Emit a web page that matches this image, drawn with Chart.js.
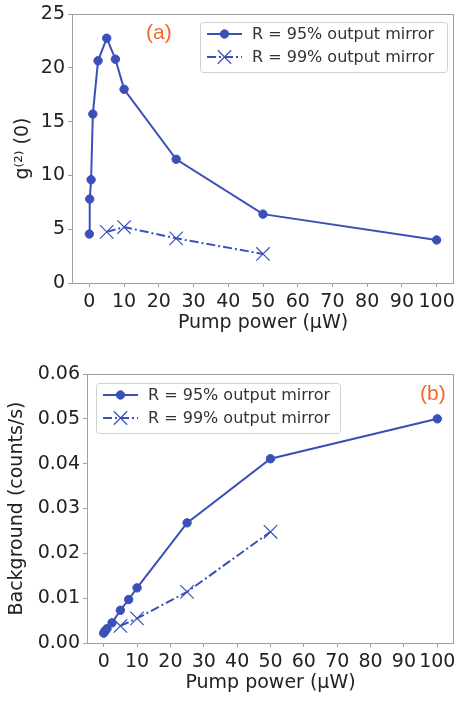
<!DOCTYPE html>
<html>
<head>
<meta charset="utf-8">
<script src="https://cdn.jsdelivr.net/npm/chart.js@4/dist/chart.umd.min.js"></script>
<style>
  html, body { margin: 0; padding: 0; background: #fff; overflow: hidden; width: 455px; height: 701px; }
  #wrapA { position: absolute; left: 0; top: 0; width: 475px; height: 335px; }
  #wrapB { position: absolute; left: 0; top: 340px; width: 475px; height: 361px; }
</style>
</head>
<body>
<div id="wrapA"><canvas id="chartA"></canvas></div>
<div id="wrapB"><canvas id="chartB"></canvas></div>
<script>
// panel (a): g2(0) vs pump power
const pumpA95 = [0, 0.1, 0.5, 1, 2.5, 5, 7.5, 10, 25, 50, 100];
const g2A95 = [4.55, 7.8, 9.6, 15.7, 20.65, 22.75, 20.8, 18.0, 11.5, 6.4, 4.0];
const pumpA99 = [5, 10, 25, 50];
const g2A99 = [4.75, 5.2, 4.15, 2.7];

// panel (b): background vs pump power
const pumpB95 = [0, 0.25, 0.5, 1, 2.5, 5, 7.5, 10, 25, 50, 100];
const bgB95 = [0.0022, 0.0025, 0.0028, 0.0032, 0.0045, 0.0073, 0.0097, 0.0123, 0.0268, 0.0411, 0.0500];
const pumpB99 = [5, 10, 25, 50];
const bgB99 = [0.0038, 0.0055, 0.0114, 0.0248];

const xTicks = [0, 10, 20, 30, 40, 50, 60, 70, 80, 90, 100];
const label95 = 'R = 95% output mirror';
const label99 = 'R = 99% output mirror';

const BLUE = '#3a50b8';
const TAG = '#f0692a';
const FONT = "'DejaVu Sans', sans-serif";
// canvases are a bit wider than the page so the "100" label gets cut at the edge like the original
const CANVAS_W = 475;

const toXY = (xs, ys) => xs.map((x, i) => ({ x: x, y: ys[i] }));

// frame, panel tag and an in-plot legend
const panelDecor = {
    id: 'panelDecor',
    afterDraw(chart, args, opts) {
        const ctx = chart.ctx;
        const a = chart.chartArea;
        ctx.save();
        ctx.strokeStyle = '#a0a0a0';
        ctx.lineWidth = 1;
        ctx.strokeRect(a.left + 0.5, a.top + 0.5, a.right - a.left - 1, a.bottom - a.top);

        ctx.fillStyle = TAG;
        ctx.font = "21px 'Liberation Sans', sans-serif";
        ctx.textAlign = 'left';
        ctx.textBaseline = 'middle';
        ctx.fillText(opts.tag, opts.tagX, opts.tagY);

        const lg = opts.legend;
        ctx.strokeStyle = '#d0d0d0';
        ctx.fillStyle = 'rgba(255,255,255,0.85)';
        ctx.beginPath();
        ctx.roundRect(lg.x + 0.5, lg.y + 0.5, lg.w, lg.h, 3);
        ctx.fill();
        ctx.stroke();

        ctx.font = '16px ' + FONT;
        chart.data.datasets.forEach((ds, i) => {
            const cy = lg.y + lg.row0 + i * lg.rowGap;
            const x0 = lg.x + 7, x1 = lg.x + 42, mx = (x0 + x1) / 2;
            ctx.strokeStyle = ds.borderColor;
            ctx.lineWidth = ds.borderWidth;
            ctx.setLineDash(ds.borderDash || []);
            ctx.beginPath();
            ctx.moveTo(x0, cy);
            ctx.lineTo(x1, cy);
            ctx.stroke();
            ctx.setLineDash([]);
            ctx.fillStyle = ds.pointBackgroundColor;
            ctx.strokeStyle = ds.pointBorderColor;
            ctx.lineWidth = ds.pointBorderWidth;
            Chart.helpers.drawPoint(ctx, { pointStyle: ds.pointStyle, radius: ds.pointRadius, borderWidth: ds.pointBorderWidth, rotation: 0 }, mx, cy);
            ctx.fillStyle = '#333';
            ctx.fillText(ds.label, lg.x + 52, cy + 1);
        });
        ctx.restore();
    }
};

function makeDatasets(x95, y95, x99, y99) {
    return [
        {
            label: label95,
            data: toXY(x95, y95),
            borderColor: BLUE,
            backgroundColor: BLUE,
            borderWidth: 2,
            pointStyle: 'circle',
            pointRadius: 4.2,
            pointBackgroundColor: BLUE,
            pointBorderColor: BLUE,
            pointBorderWidth: 1
        },
        {
            label: label99,
            data: toXY(x99, y99),
            borderColor: BLUE,
            backgroundColor: BLUE,
            borderWidth: 2,
            borderDash: [9, 3, 2, 3],
            pointStyle: 'crossRot',
            pointRadius: 9.5,
            pointBackgroundColor: BLUE,
            pointBorderColor: BLUE,
            pointBorderWidth: 1.2
        }
    ];
}

function makeOptions(cfg) {
    return {
        responsive: false,
        animation: false,
        layout: { padding: { left: 0, right: CANVAS_W - 454, top: cfg.top, bottom: 0 } },
        plugins: {
            legend: { display: false },
            tooltip: { enabled: false },
            panelDecor: cfg.decor
        },
        scales: {
            x: {
                type: 'linear',
                min: -5,
                max: 105,
                afterBuildTicks: s => { s.ticks = xTicks.map(v => ({ value: v })); },
                afterFit: s => { s.height = cfg.xHeight; },
                grid: { drawOnChartArea: false, drawTicks: true, tickLength: 4, color: '#a0a0a0' },
                border: { display: false },
                ticks: { color: '#222', padding: 4, maxRotation: 0, autoSkip: false, font: { family: FONT, size: 19 } },
                title: {
                    display: true,
                    text: 'Pump power (µW)',
                    color: '#222',
                    font: { family: FONT, size: 19 },
                    padding: { top: 0, bottom: cfg.xTitlePad }
                }
            },
            y: {
                type: 'linear',
                min: cfg.yMin,
                max: cfg.yMax,
                afterFit: s => { s.width = cfg.yWidth; s.paddingTop = 0; s.paddingBottom = 0; },
                grid: { drawOnChartArea: false, drawTicks: true, tickLength: 4, color: '#a0a0a0' },
                border: { display: false },
                ticks: {
                    color: '#222',
                    padding: 3,
                    stepSize: cfg.yStep,
                    font: { family: FONT, size: 19 },
                    callback: cfg.yFmt
                },
                title: {
                    display: true,
                    text: cfg.yTitle,
                    color: '#222',
                    font: { family: FONT, size: 19 },
                    padding: { top: cfg.yTitlePad, bottom: 0 }
                }
            }
        }
    };
}

function mountCanvas(id, w, h) {
    const c = document.getElementById(id);
    c.width = w; c.height = h;
    c.style.width = w + 'px'; c.style.height = h + 'px';
    return c;
}

new Chart(mountCanvas('chartA', CANVAS_W, 335), {
    type: 'line',
    data: { datasets: makeDatasets(pumpA95, g2A95, pumpA99, g2A99) },
    options: makeOptions({
        top: 14, xHeight: 52, yWidth: 72, yMin: 0, yMax: 25, yStep: 5,
        yFmt: v => v, yTitle: 'g⁽²⁾ (0)', yTitlePad: 12, xTitlePad: 1,
        decor: { tag: '(a)', tagX: 146, tagY: 33,
                 legend: { x: 200, y: 22, w: 247, h: 50, row0: 12, rowGap: 23 } }
    }),
    plugins: [panelDecor]
});

new Chart(mountCanvas('chartB', CANVAS_W, 361), {
    type: 'line',
    data: { datasets: makeDatasets(pumpB95, bgB95, pumpB99, bgB99) },
    options: makeOptions({
        top: 34, xHeight: 58, yWidth: 87, yMin: 0, yMax: 0.06, yStep: 0.01,
        yFmt: v => v.toFixed(2), yTitle: 'Background (counts/s)', yTitlePad: 6, xTitlePad: 7,
        decor: { tag: '(b)', tagX: 420, tagY: 54,
                 legend: { x: 96, y: 43, w: 244, h: 50, row0: 12, rowGap: 23 } }
    }),
    plugins: [panelDecor]
});
</script>
</body>
</html>
